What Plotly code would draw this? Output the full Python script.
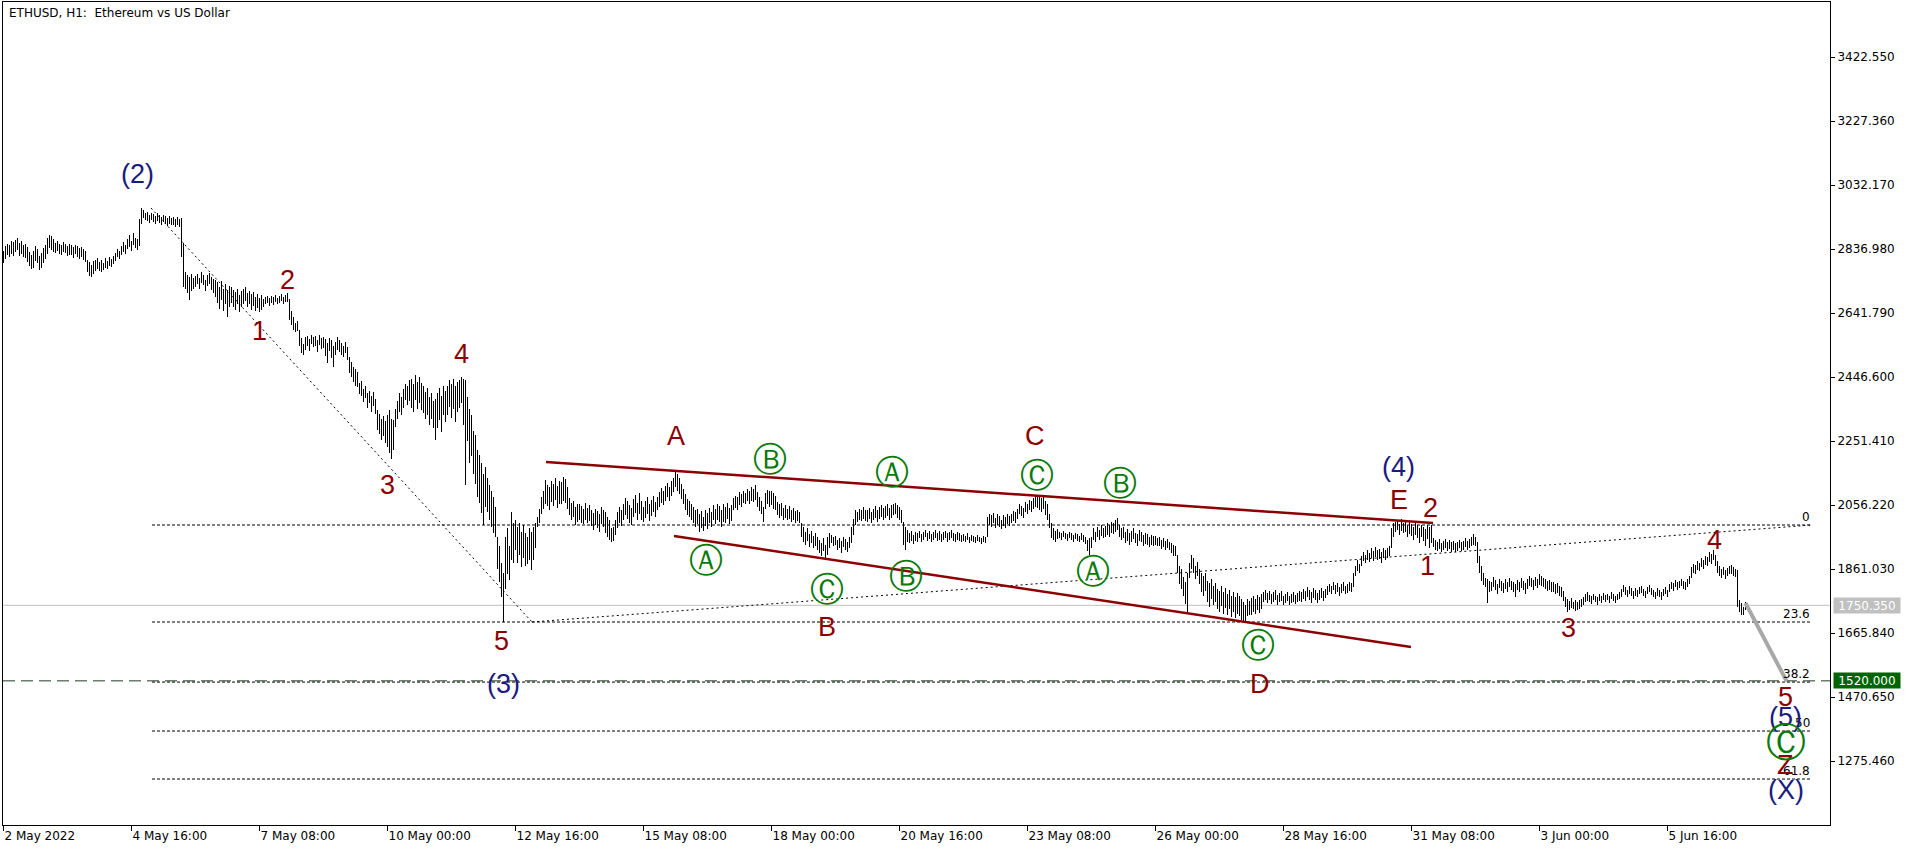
import plotly.graph_objects as go

# ---------------- data ----------------
# hourly bars ETHUSD H1, starting 2 May 2022 00:00 (one line per day)
bar_high = [
 2832, 2845, 2851, 2848, 2862, 2858, 2866, 2871, 2855, 2860, 2849, 2853, 2842, 2828, 2818, 2831, 2845, 2836, 2815, 2826, 2839, 2848, 2872, 2881,
 2878, 2867, 2856, 2861, 2852, 2849, 2858, 2853, 2846, 2851, 2848, 2843, 2850, 2845, 2839, 2842, 2836, 2830, 2805, 2796, 2788, 2799, 2802, 2810,
 2798, 2805, 2794, 2809, 2801, 2812, 2806, 2815, 2826, 2838, 2832, 2845, 2857, 2849, 2868, 2879, 2861, 2887, 2872, 2869, 2930, 2962, 2955, 2948,
 2951, 2941, 2947, 2944, 2938, 2946, 2940, 2935, 2942, 2937, 2931, 2939, 2933, 2936, 2928, 2934, 2930, 2931, 2855, 2767, 2758, 2752, 2760, 2748,
 2755, 2762, 2749, 2766, 2758, 2744, 2757, 2763, 2751, 2746, 2742, 2735, 2721, 2738, 2716, 2729, 2712, 2724, 2720, 2712, 2705, 2716, 2698, 2709,
 2714, 2721, 2703, 2710, 2699, 2706, 2692, 2701, 2688, 2696, 2684, 2690, 2693, 2688, 2695, 2691, 2697, 2689, 2694, 2699, 2692, 2696, 2702, 2686,
 2648, 2630, 2612, 2618, 2590, 2565, 2548, 2568, 2573, 2562, 2576, 2569, 2571, 2560, 2574, 2566, 2570, 2562, 2549, 2565, 2558, 2541, 2553, 2568,
 2560, 2549, 2541, 2553, 2538, 2507, 2492, 2478, 2470, 2463, 2428, 2436, 2411, 2420, 2398, 2405, 2389, 2402, 2380, 2346, 2334, 2318, 2329, 2312,
 2330, 2346, 2320, 2315, 2350, 2372, 2398, 2385, 2410, 2426, 2418, 2437, 2441, 2425, 2453, 2432, 2446, 2428, 2420, 2401, 2412, 2386, 2398, 2375,
 2380, 2398, 2412, 2390, 2420, 2405, 2420, 2438, 2425, 2441, 2418, 2432, 2438, 2447, 2440, 2437, 2386, 2350, 2330, 2282, 2270, 2225, 2210, 2184,
 2150, 2172, 2140, 2118, 2100, 2080, 2050, 1960, 1930, 1880, 1850, 1960, 1985, 1930, 2035, 2000, 2010, 1989, 2002, 1975, 1995, 1971, 1960, 1986,
 1975, 1990, 2002, 2020, 2045, 2080, 2100, 2132, 2118, 2111, 2128, 2120, 2138, 2115, 2130, 2125, 2142, 2135, 2110, 2077, 2062, 2070, 2050, 2058,
 2060, 2052, 2045, 2062, 2048, 2055, 2040, 2032, 2045, 2038, 2028, 2050, 2042, 2035, 2020, 2010, 1985, 1990, 2010, 2035, 2050, 2042, 2060, 2078,
 2068, 2055, 2046, 2075, 2088, 2062, 2093, 2070, 2050, 2068, 2080, 2058, 2072, 2085, 2066, 2081, 2095, 2108, 2100, 2115, 2123, 2110, 2128, 2140,
 2157, 2150, 2140, 2120, 2105, 2090, 2075, 2070, 2060, 2050, 2040, 2045, 2028, 2038, 2020, 2042, 2032, 2048, 2036, 2055, 2045, 2060, 2052, 2040,
 2058, 2050, 2062, 2048, 2055, 2077, 2085, 2080, 2095, 2090, 2100, 2094, 2106, 2099, 2110, 2104, 2117, 2095, 2080, 2070, 2050, 2093, 2102, 2098,
 2100, 2093, 2085, 2065, 2058, 2062, 2048, 2055, 2045, 2052, 2040, 2046, 2038, 2042, 2035, 2001, 1990, 1975, 1985, 1968, 1978, 1962, 1970, 1959,
 1950, 1940, 1955, 1935, 1960, 1970, 1965, 1958, 1962, 1950, 1955, 1948, 1960, 1952, 1945, 1958, 1990, 2015, 2040, 2035, 2045, 2040, 2050, 2042,
 2040, 2048, 2035, 2045, 2052, 2040, 2050, 2055, 2046, 2052, 2058, 2048, 2055, 2060, 2062, 2055, 2050, 2042, 2005, 1990, 1980, 1972, 1978, 1965,
 1975, 1970, 1978, 1968, 1975, 1980, 1972, 1977, 1969, 1974, 1979, 1971, 1976, 1968, 1973, 1978, 1970, 1975, 1980, 1972, 1968, 1974, 1970, 1966,
 1968, 1963, 1970, 1960, 1966, 1962, 1958, 1965, 1960, 1955, 1962, 1958, 2020, 2030, 2025, 2032, 2018, 2028, 2022, 2012, 2026, 2020, 2030, 2024,
 2030, 2038, 2035, 2045, 2060, 2052, 2048, 2065, 2058, 2072, 2068, 2078, 2085, 2087, 2080, 2078, 2085, 2070, 2060, 2030, 2000, 1985, 1978, 1982,
 1975, 1970, 1978, 1972, 1968, 1975, 1970, 1965, 1972, 1968, 1962, 1970, 1965, 1960, 1950, 1955, 1960, 1985, 1975, 1990, 1980, 1995, 1985, 1992,
 2000, 1995, 2005, 2002, 2010, 2016, 1995, 1985, 1990, 1975, 1982, 1970, 1978, 1985, 1972, 1968, 1980, 1975, 1965, 1972, 1968, 1960, 1966, 1962,
 1962, 1955, 1958, 1950, 1955, 1948, 1952, 1945, 1940, 1935, 1930, 1905, 1870, 1860, 1838, 1820, 1850, 1880, 1904, 1895, 1870, 1882, 1860, 1850,
 1840, 1849, 1825, 1818, 1830, 1810, 1818, 1800, 1795, 1808, 1790, 1802, 1785, 1796, 1780, 1792, 1776, 1788, 1780, 1770, 1760, 1752, 1770, 1765,
 1772, 1778, 1770, 1782, 1776, 1785, 1792, 1797, 1788, 1795, 1785, 1790, 1796, 1782, 1789, 1794, 1780, 1786, 1792, 1778, 1784, 1790, 1782, 1788,
 1795, 1790, 1800, 1794, 1806, 1798, 1792, 1802, 1796, 1788, 1798, 1804, 1795, 1800, 1808, 1815, 1810, 1821, 1812, 1818, 1806, 1814, 1820, 1810,
 1815, 1821, 1818, 1850, 1870, 1888, 1875, 1900, 1912, 1905, 1920, 1910, 1925, 1915, 1928, 1918, 1922, 1912, 1926, 1918, 1924, 1930, 1985, 2000,
 2005, 2010, 1998, 2013, 2002, 2008, 1995, 2004, 1998, 1990, 2000, 1994, 1985, 1996, 1990, 1982, 1994, 1988, 1995, 1956, 1950, 1945, 1952, 1940,
 1948, 1953, 1945, 1950, 1942, 1948, 1940, 1945, 1950, 1943, 1948, 1955, 1947, 1952, 1958, 1968, 1960, 1945, 1900, 1870, 1850, 1835, 1830, 1825,
 1820, 1836, 1828, 1815, 1832, 1825, 1818, 1830, 1822, 1834, 1826, 1820, 1815, 1828, 1822, 1833, 1826, 1818, 1830, 1840, 1835, 1828, 1838, 1832,
 1845, 1840, 1835, 1830, 1825, 1828, 1820, 1822, 1815, 1818, 1810, 1805, 1795, 1776, 1770, 1765, 1772, 1762, 1768, 1760, 1766, 1770, 1775, 1785,
 1790, 1782, 1778, 1786, 1780, 1776, 1784, 1779, 1788, 1782, 1786, 1780, 1790, 1784, 1778, 1786, 1790, 1800, 1812, 1805, 1798, 1808, 1802, 1795,
 1802, 1796, 1805, 1808, 1800, 1795, 1806, 1812, 1804, 1798, 1792, 1802, 1796, 1790, 1800, 1806, 1798, 1815, 1822, 1818, 1827, 1820, 1825, 1830,
 1825, 1822, 1832, 1840, 1867, 1875, 1872, 1885, 1880, 1895, 1890, 1902, 1898, 1912, 1908, 1919, 1905, 1885, 1870, 1862, 1868, 1858, 1865, 1870,
 1872, 1866, 1860, 1858, 1766, 1758, 1745, 1762, 1757,
]
bar_low = [
 2795, 2808, 2818, 2812, 2821, 2817, 2829, 2834, 2815, 2822, 2813, 2810, 2797, 2786, 2776, 2780, 2801, 2793, 2772, 2779, 2795, 2808, 2821, 2840,
 2835, 2828, 2826, 2830, 2822, 2818, 2829, 2824, 2815, 2820, 2819, 2811, 2821, 2814, 2808, 2812, 2803, 2796, 2766, 2754, 2751, 2762, 2770, 2776,
 2771, 2768, 2773, 2780, 2775, 2786, 2781, 2790, 2801, 2812, 2806, 2819, 2828, 2822, 2836, 2843, 2830, 2848, 2839, 2835, 2846, 2912, 2931, 2925,
 2922, 2915, 2924, 2919, 2912, 2921, 2916, 2910, 2918, 2913, 2907, 2914, 2909, 2911, 2903, 2909, 2905, 2813, 2721, 2716, 2702, 2681, 2710, 2715,
 2722, 2731, 2714, 2733, 2726, 2708, 2725, 2730, 2712, 2703, 2690, 2672, 2655, 2681, 2648, 2668, 2630, 2660, 2672, 2661, 2650, 2668, 2645, 2660,
 2670, 2679, 2660, 2668, 2652, 2663, 2648, 2657, 2645, 2652, 2660, 2668, 2671, 2664, 2673, 2667, 2675, 2669, 2672, 2678, 2670, 2674, 2676, 2622,
 2604, 2589, 2583, 2586, 2541, 2520, 2514, 2530, 2542, 2526, 2548, 2538, 2541, 2522, 2545, 2533, 2535, 2512, 2490, 2526, 2505, 2477, 2514, 2530,
 2522, 2515, 2508, 2519, 2500, 2458, 2447, 2431, 2419, 2416, 2395, 2388, 2370, 2382, 2352, 2366, 2340, 2358, 2335, 2286, 2272, 2254, 2266, 2245,
 2232, 2215, 2196, 2224, 2294, 2318, 2340, 2332, 2352, 2376, 2360, 2372, 2352, 2341, 2376, 2350, 2368, 2345, 2338, 2320, 2330, 2300, 2318, 2290,
 2255, 2290, 2315, 2280, 2330, 2308, 2330, 2355, 2322, 2350, 2310, 2340, 2352, 2368, 2300, 2117, 2250, 2184, 2205, 2150, 2120, 2080, 2062, 2032,
 1995, 2050, 2035, 2010, 1990, 1972, 1959, 1860, 1820, 1776, 1700, 1800, 1845, 1828, 1890, 1880, 1920, 1880, 1905, 1868, 1895, 1870, 1875, 1890,
 1858, 1890, 1925, 1990, 2000, 2030, 2045, 2060, 2052, 2041, 2065, 2052, 2071, 2048, 2060, 2058, 2070, 2062, 2045, 2025, 2012, 2020, 1995, 2005,
 2012, 2000, 1998, 2010, 2002, 2008, 1992, 1980, 1995, 1985, 1975, 1998, 1988, 1970, 1960, 1950, 1943, 1948, 1965, 1985, 2000, 1992, 2010, 2025,
 2015, 2002, 1995, 2020, 2032, 2010, 2028, 2012, 2004, 2018, 2030, 2008, 2022, 2035, 2020, 2040, 2050, 2062, 2055, 2070, 2080, 2068, 2085, 2095,
 2110, 2098, 2090, 2075, 2060, 2040, 2025, 2020, 2010, 2001, 1990, 1998, 1974, 1985, 1978, 1992, 1982, 2000, 1988, 2010, 1998, 2012, 2004, 1990,
 2005, 2000, 2015, 1998, 2008, 2041, 2048, 2042, 2055, 2050, 2062, 2058, 2068, 2060, 2070, 2064, 2072, 2050, 2038, 2030, 2004, 2045, 2058, 2050,
 2055, 2045, 2040, 2025, 2018, 2022, 2012, 2018, 2010, 2015, 2005, 2012, 2002, 2008, 2000, 1959, 1945, 1935, 1948, 1928, 1940, 1925, 1932, 1920,
 1910, 1900, 1915, 1894, 1905, 1925, 1940, 1930, 1935, 1918, 1925, 1910, 1928, 1920, 1912, 1925, 1940, 1965, 1995, 2005, 2012, 2008, 2015, 2006,
 2005, 2015, 2000, 2010, 2018, 2005, 2015, 2020, 2010, 2018, 2022, 2012, 2018, 2025, 2028, 2018, 2012, 2000, 1935, 1919, 1945, 1940, 1948, 1938,
 1948, 1945, 1955, 1942, 1950, 1958, 1947, 1952, 1944, 1950, 1956, 1946, 1951, 1943, 1949, 1955, 1945, 1950, 1957, 1948, 1944, 1950, 1946, 1942,
 1948, 1945, 1950, 1940, 1947, 1944, 1940, 1946, 1942, 1938, 1945, 1940, 1960, 1995, 1988, 2000, 1985, 1995, 1990, 1982, 1992, 1986, 1998, 1992,
 2000, 2008, 2002, 2015, 2030, 2022, 2018, 2035, 2028, 2040, 2036, 2045, 2050, 2048, 2040, 2035, 2045, 2025, 2010, 1985, 1955, 1950, 1945, 1952,
 1955, 1950, 1958, 1952, 1948, 1955, 1950, 1945, 1952, 1948, 1942, 1950, 1945, 1938, 1915, 1904, 1925, 1950, 1945, 1958, 1950, 1962, 1955, 1960,
 1965, 1960, 1970, 1968, 1975, 1980, 1960, 1950, 1955, 1940, 1948, 1935, 1945, 1952, 1940, 1932, 1946, 1942, 1930, 1938, 1935, 1928, 1933, 1930,
 1935, 1930, 1932, 1922, 1928, 1920, 1925, 1918, 1910, 1902, 1900, 1849, 1815, 1800, 1780, 1755, 1730, 1835, 1860, 1850, 1830, 1840, 1815, 1790,
 1780, 1795, 1760, 1745, 1770, 1750, 1760, 1740, 1730, 1748, 1725, 1742, 1720, 1738, 1715, 1730, 1711, 1725, 1718, 1705, 1700, 1696, 1718, 1720,
 1722, 1730, 1725, 1735, 1728, 1740, 1762, 1768, 1758, 1766, 1755, 1762, 1768, 1752, 1760, 1765, 1751, 1758, 1764, 1750, 1756, 1762, 1754, 1760,
 1765, 1760, 1770, 1764, 1776, 1768, 1758, 1772, 1766, 1757, 1768, 1774, 1765, 1772, 1782, 1790, 1785, 1797, 1786, 1792, 1780, 1788, 1795, 1784,
 1788, 1795, 1790, 1805, 1840, 1855, 1850, 1870, 1885, 1878, 1890, 1882, 1895, 1885, 1898, 1888, 1892, 1880, 1896, 1888, 1894, 1900, 1925, 1960,
 1975, 1980, 1965, 1978, 1970, 1975, 1958, 1968, 1962, 1950, 1965, 1955, 1940, 1960, 1948, 1930, 1952, 1925, 1940, 1928, 1920, 1915, 1922, 1913,
 1920, 1926, 1915, 1922, 1913, 1918, 1912, 1916, 1924, 1915, 1920, 1928, 1918, 1924, 1930, 1935, 1930, 1879, 1850, 1826, 1812, 1806, 1757, 1790,
 1795, 1805, 1798, 1785, 1802, 1795, 1788, 1800, 1792, 1806, 1796, 1790, 1776, 1798, 1792, 1804, 1796, 1785, 1800, 1810, 1805, 1798, 1808, 1802,
 1812, 1808, 1805, 1800, 1795, 1798, 1790, 1792, 1785, 1788, 1780, 1775, 1765, 1745, 1730, 1735, 1742, 1738, 1733, 1736, 1740, 1745, 1750, 1760,
 1765, 1760, 1755, 1768, 1760, 1752, 1765, 1758, 1768, 1762, 1766, 1758, 1770, 1764, 1757, 1766, 1770, 1775, 1790, 1782, 1775, 1786, 1778, 1770,
 1780, 1775, 1784, 1788, 1780, 1772, 1785, 1792, 1782, 1775, 1770, 1780, 1775, 1768, 1778, 1785, 1776, 1790, 1800, 1795, 1805, 1798, 1802, 1808,
 1800, 1798, 1806, 1815, 1835, 1850, 1846, 1858, 1855, 1866, 1862, 1874, 1870, 1882, 1876, 1888, 1870, 1850, 1840, 1835, 1842, 1832, 1840, 1845,
 1845, 1840, 1836, 1745, 1730, 1722, 1720, 1735, 1742,
]

# time axis labels (bar index -> label)
x_tick_index = [0, 64, 128, 192, 256, 320, 384, 448, 512, 576, 640, 704, 768, 832]
x_tick_labels = ["2 May 2022", "4 May 16:00", "7 May 08:00", "10 May 00:00", "12 May 16:00",
                 "15 May 08:00", "18 May 00:00", "20 May 16:00", "23 May 08:00", "26 May 00:00",
                 "28 May 16:00", "31 May 08:00", "3 Jun 00:00", "5 Jun 16:00"]
y_tick_values = [3422.55, 3227.36, 3032.17, 2836.98, 2641.79, 2446.60, 2251.41,
                 2056.22, 1861.03, 1665.84, 1470.65, 1275.46]

current_price = 1750.35
target_price = 1520.00

# Fibonacci expansion levels
fib_labels = ["0", "23.6", "38.2", "50", "61.8"]
fib_prices = [1995.3, 1699.5, 1516.3, 1367.0, 1220.6]
fib_points = [(73.75, 2962.0), (264.25, 1699.5), (904.25, 1995.3)]  # (bar, price)
fib_start_bar, fib_end_bar = 74.25, 903.75

# triangle trend lines (bar, price)
upper_line = [(271.25, 2187.4), (714.75, 2001.4)]
lower_line = [(335.25, 1961.7), (703.75, 1623.2)]
forecast_line = [(871.0, 1757.0), (891.5, 1520.0)]

# wave labels: text, bar, price, kind
wave_labels = [
    ("(2)", 67, 3065.7, "navy"), ("1", 128, 2587, "red"), ("2", 142, 2742.5, "red"),
    ("3", 192, 2117.3, "red"), ("4", 229, 2516.8, "red"), ("5", 249, 1641.5, "red"),
    ("(3)", 250, 1510.4, "navy"),
    ("A", 336, 2266.7, "red"), ("Ⓑ", 383, 2196.5, "green"), ("Ⓐ", 444, 2156.9, "green"),
    ("C", 515.5, 2266.7, "red"), ("Ⓒ", 516.5, 2147.7, "green"), ("Ⓑ", 558, 2123.3, "green"),
    ("(4)", 697.5, 2172.3, "navy"), ("E", 697.5, 2071.5, "red"), ("2", 713.5, 2047.1, "red"),
    ("1", 712, 1870.2, "red"), ("3", 782.5, 1681.2, "red"), ("4", 855.5, 1949.6, "red"),
    ("Ⓐ", 351, 1888.5, "green"), ("Ⓒ", 411.5, 1800.0, "green"), ("B", 411.5, 1684.2, "red"),
    ("Ⓑ", 451, 1839.7, "green"), ("Ⓐ", 544.5, 1855.0, "green"), ("Ⓒ", 627, 1629.3, "green"),
    ("D", 628, 1510.4, "red"),
    ("5", 891, 1470.7, "red"), ("(5)", 891, 1409.8, "navy"), ("Z", 891, 1263.4, "red"),
    ("Ⓒ", 891, 1333.5, "bigGreen"), ("(X)", 891, 1187.1, "navy"),
]

# ---------------- figure ----------------
assert len(bar_high) == len(bar_low)

bx, by = [], []
for i, (lo, hi) in enumerate(zip(bar_low, bar_high)):
    bx += [i, i, None]
    by += [lo, hi, None]

fig = go.Figure()
fig.add_trace(go.Scatter(x=bx, y=by, mode="lines", line=dict(color="black", width=1),
                         hoverinfo="skip", showlegend=False))

shapes = []
shapes.append(dict(type="line", xref="paper", x0=0, x1=1, yref="y", y0=current_price, y1=current_price,
                   line=dict(color="#c0c0c0", width=1), layer="below"))
shapes.append(dict(type="line", xref="paper", x0=0, x1=1, yref="y", y0=target_price, y1=target_price,
                   line=dict(color="#1e3c1e", width=1, dash="12px,6px"), layer="below"))
for p in fib_prices:
    shapes.append(dict(type="line", xref="x", yref="y", x0=fib_start_bar, x1=fib_end_bar, y0=p, y1=p,
                       line=dict(color="black", width=1, dash="3px,2px"), layer="below"))
for (a, b) in zip(fib_points[:-1], fib_points[1:]):
    shapes.append(dict(type="line", xref="x", yref="y", x0=a[0], y0=a[1], x1=b[0], y1=b[1],
                       line=dict(color="black", width=1, dash="2px,3px"), layer="below"))
for ln in (upper_line, lower_line):
    shapes.append(dict(type="line", xref="x", yref="y", x0=ln[0][0], y0=ln[0][1], x1=ln[1][0], y1=ln[1][1],
                       line=dict(color="#8b0000", width=2.5)))
shapes.append(dict(type="line", xref="x", yref="y", x0=forecast_line[0][0], y0=forecast_line[0][1],
                   x1=forecast_line[1][0], y1=forecast_line[1][1], line=dict(color="#a8a8a8", width=4)))

annotations = []
annotations.append(dict(text="ETHUSD, H1:\u00a0 Ethereum vs US Dollar", xref="paper", yref="paper",
                        x=0.0022, y=0.9866, xanchor="left", yanchor="middle", showarrow=False,
                        font=dict(family="DejaVu Sans", size=12, color="black")))
for lab, p in zip(fib_labels, fib_prices):
    annotations.append(dict(text=lab, x=fib_end_bar, y=p, xref="x", yref="y", xanchor="right",
                            yanchor="bottom", showarrow=False, borderpad=0,
                            font=dict(family="DejaVu Sans", size=12, color="black")))

styles = {
    "red": dict(family="Liberation Sans", size=27, color="#8b0000"),
    "navy": dict(family="Liberation Sans", size=27, color="#1a1a80"),
    "green": dict(family="DejaVu Sans", size=34, color="#0a7a0a"),
    "bigGreen": dict(family="DejaVu Sans", size=40, color="#0a7a0a"),
}
for txt, bi, pr, kind in wave_labels:
    annotations.append(dict(text=txt, x=bi, y=pr, xref="x", yref="y", xanchor="center",
                            yanchor="middle", showarrow=False, font=styles[kind]))

for val, bg in ((current_price, "#c0c0c0"), (target_price, "#006400")):
    annotations.append(dict(text=f"{val:.3f}", xref="paper", yref="y", x=1.0016, y=val,
                            xanchor="left", yanchor="middle", showarrow=False, bgcolor=bg,
                            width=66, height=15, borderpad=0,
                            font=dict(family="DejaVu Sans", size=12, color="white")))

fig.update_layout(
    width=1916, height=852,
    margin=dict(l=3, r=86, t=2, b=27),
    paper_bgcolor="white", plot_bgcolor="white",
    showlegend=False,
    font=dict(family="DejaVu Sans", size=12, color="black"),
    shapes=shapes, annotations=annotations,
    xaxis=dict(range=[-0.25, 913.25], tickmode="array", tickvals=x_tick_index, ticktext=x_tick_labels,
               ticks="outside", ticklen=5, tickcolor="black", tickwidth=1,
               showline=True, linecolor="black", linewidth=1, mirror=True,
               showgrid=False, zeroline=False, ticklabelposition="outside right",
               tickfont=dict(family="DejaVu Sans", size=12, color="black")),
    yaxis=dict(range=[1080.4, 3590.3], side="right", tickmode="array", tickvals=y_tick_values,
               ticktext=[f"{v:.3f}" for v in y_tick_values],
               ticks="outside", ticklen=4, tickcolor="black", tickwidth=1,
               showline=True, linecolor="black", linewidth=1, mirror=True,
               showgrid=False, zeroline=False,
               tickfont=dict(family="DejaVu Sans", size=12, color="black")),
)

post = (
    "document.body.style.margin='0px';document.body.style.overflow='hidden';"
    "var gd=document.getElementById('{plot_id}');"
    "gd.querySelectorAll('.scatterlayer path').forEach(function(p){p.style.shapeRendering='crispEdges';});"
)
fig.write_html("out.html", config={"displayModeBar": False}, post_script=post)
